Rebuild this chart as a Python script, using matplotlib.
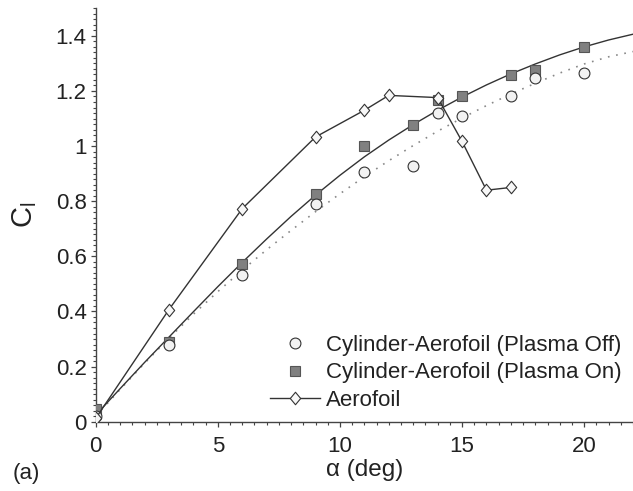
import matplotlib
matplotlib.use("Agg")
import matplotlib.pyplot as plt
from matplotlib.ticker import MultipleLocator, FuncFormatter
from matplotlib.path import Path

plt.rcParams['font.family'] = ['Liberation Sans', 'DejaVu Sans']
plt.rcParams['mathtext.fontset'] = 'custom'
plt.rcParams['mathtext.rm'] = 'Liberation Sans'
plt.rcParams['mathtext.default'] = 'regular'

# measured points
alpha_off = [0, 3, 6, 9, 11, 13, 14, 15, 17, 18, 20]
cl_off = [0.02, 0.28, 0.534, 0.791, 0.906, 0.928, 1.121, 1.109, 1.182, 1.247, 1.266]

alpha_on = [0, 3, 6, 9, 11, 13, 14, 15, 17, 18, 20]
cl_on = [0.046, 0.289, 0.574, 0.825, 0.999, 1.075, 1.168, 1.18, 1.259, 1.275, 1.358]

alpha_aero = [0, 3, 6, 9, 11, 12, 14, 15, 16, 17]
cl_aero = [0.012, 0.407, 0.773, 1.033, 1.13, 1.184, 1.176, 1.017, 0.84, 0.85]

# trend curves
alpha_fit = list(range(23))
cl_fit_on = [0.024, 0.12, 0.215, 0.307, 0.399, 0.49, 0.578, 0.663, 0.745, 0.822, 0.894, 0.961,
             1.022, 1.078, 1.13, 1.178, 1.222, 1.262, 1.298, 1.331, 1.36, 1.385, 1.406]
cl_fit_off = [0.02, 0.117, 0.212, 0.303, 0.39, 0.472, 0.55, 0.624, 0.694, 0.762, 0.827, 0.889,
              0.947, 1.002, 1.054, 1.102, 1.147, 1.189, 1.228, 1.265, 1.298, 1.324, 1.343]

diamond = Path([(0, -1), (0.83, 0), (0, 1), (-0.83, 0), (0, -1)],
               [Path.MOVETO, Path.LINETO, Path.LINETO, Path.LINETO, Path.CLOSEPOLY])

fig = plt.figure(figsize=(6.33, 4.91), dpi=100)
ax = fig.add_axes([95.7 / 633, 69.3 / 491, 537.3 / 633, 413.4 / 491])

ax.plot(alpha_fit, cl_fit_off, color='#888888', lw=1.2, ls=(0, (1, 4)), zorder=1)
ax.plot(alpha_fit, cl_fit_on, color='#333333', lw=1.0, zorder=1)

ax.plot(alpha_on, cl_on, ls='none', marker='s', ms=6.5, mfc='#808080', mec='#555555',
        mew=0.8, zorder=3, label='Cylinder-Aerofoil (Plasma On)')
ax.plot(alpha_off, cl_off, ls='none', marker='o', ms=7.8, mfc='#f2f2f2', mec='#333333',
        mew=0.8, zorder=4, label='Cylinder-Aerofoil (Plasma Off)')
ax.plot(alpha_aero, cl_aero, color='#333333', lw=1.0, marker=diamond, ms=9,
        mfc='#f7f7f7', mec='#333333', mew=0.8, zorder=5, label='Aerofoil')

ax.set_xlim(0, 22)
ax.set_ylim(0, 1.5)
ax.spines['top'].set_visible(False)
ax.spines['right'].set_visible(False)
for s in ['left', 'bottom']:
    ax.spines[s].set_color('#444444')
    ax.spines[s].set_linewidth(1.0)

ax.xaxis.set_major_locator(MultipleLocator(5))
ax.xaxis.set_minor_locator(MultipleLocator(0.5))
ax.yaxis.set_major_locator(MultipleLocator(0.2))
ax.yaxis.set_minor_locator(MultipleLocator(0.02))
ax.yaxis.set_major_formatter(FuncFormatter(lambda v, p: '%g' % round(v, 2)))
ax.tick_params(which='major', length=3.5, width=0.9, color='#444444', labelsize=16, labelcolor='#222222')
ax.tick_params(which='minor', length=2, width=0.8, color='#444444')
ax.tick_params(axis='x', which='major', pad=7)
ax.tick_params(axis='y', which='major', pad=3)

ax.set_xlabel('α (deg)', fontsize=17.5, color='#222222', labelpad=1)
ax.set_ylabel('C$_l$', fontsize=21, color='#222222', rotation=90)
ax.yaxis.set_label_coords(-0.105, 0.5)
fig.text(13 / 633, 1 - 474 / 491, '(a)', fontsize=16, color='#222222', va='center', ha='left')

h, l = ax.get_legend_handles_labels()
order = [1, 0, 2]
ax.legend([h[i] for i in order], [l[i] for i in order], loc='lower right',
          bbox_to_anchor=(1.0, 0.0), frameon=False,
          fontsize=16, handlelength=2.25, handletextpad=0.3, labelspacing=0.28,
          borderaxespad=0.3, borderpad=0.2, labelcolor='#222222')

fig.savefig('out.png', dpi=100)
